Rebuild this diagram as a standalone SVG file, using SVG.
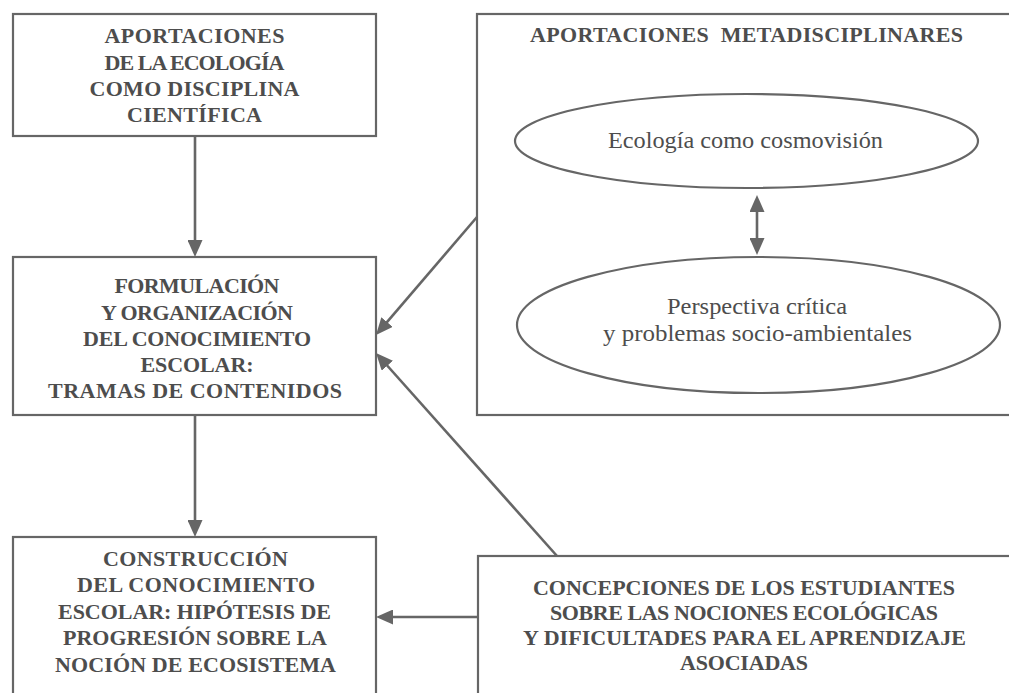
<svg xmlns="http://www.w3.org/2000/svg" width="1009" height="693" viewBox="0 0 1009 693">
<style>
.box{fill:#ffffff;stroke:#666666;stroke-width:2.2}
.ell{fill:#ffffff;stroke:#666666;stroke-width:2.2}
.b{font-family:"Liberation Serif","Times New Roman",serif;font-weight:bold;font-size:22px;fill:#4d4d4d;text-anchor:middle}
.r{font-family:"Liberation Serif","Times New Roman",serif;font-size:24px;fill:#4d4d4d;text-anchor:middle}
.c{stroke:#666666;stroke-width:2.6;fill:none}
</style>
<defs>
<marker id="ah" markerUnits="userSpaceOnUse" markerWidth="17" markerHeight="15" refX="11" refY="7.5" orient="auto-start-reverse">
<path d="M0,0 L17,7.5 L0,15 z" fill="#666666"/>
</marker>
</defs>
<rect width="1009" height="693" fill="#ffffff"/>
<g id="n1">
<rect class="box" x="13" y="14" width="363" height="122"/>
<text class="b" x="194.5" y="43" textLength="180">APORTACIONES</text>
<text class="b" x="194.5" y="69.5" textLength="180">DE LA ECOLOGÍA</text>
<text class="b" x="194.5" y="96" textLength="210">COMO DISCIPLINA</text>
<text class="b" x="194.5" y="122" textLength="135">CIENTÍFICA</text>
</g>
<g id="n2">
<rect class="box" x="13" y="257" width="363" height="158"/>
<text class="b" x="197" y="293" textLength="165">FORMULACIÓN</text>
<text class="b" x="197" y="320" textLength="192">Y ORGANIZACIÓN</text>
<text class="b" x="197" y="346" textLength="228">DEL CONOCIMIENTO</text>
<text class="b" x="197" y="372" textLength="113">ESCOLAR:</text>
<text class="b" x="195" y="398" textLength="294">TRAMAS DE CONTENIDOS</text>
</g>
<g id="n3">
<rect class="box" x="477" y="14" width="545" height="401"/>
<text class="b" x="746.5" y="42" textLength="433" xml:space="preserve">APORTACIONES  METADISCIPLINARES</text>
</g>
<g id="n3a">
<ellipse class="ell" cx="746.5" cy="141" rx="231.5" ry="47"/>
<text class="r" x="745.5" y="148" textLength="275" lengthAdjust="spacingAndGlyphs">Ecología como cosmovisión</text>
</g>
<g id="n3b">
<ellipse class="ell" cx="758.5" cy="325" rx="241.5" ry="68"/>
<text class="r" x="757" y="314" textLength="180" lengthAdjust="spacingAndGlyphs">Perspectiva crítica</text>
<text class="r" x="757.5" y="341" textLength="309" lengthAdjust="spacingAndGlyphs">y problemas socio-ambientales</text>
</g>
<g id="n4">
<rect class="box" x="13" y="537" width="363" height="170"/>
<text class="b" x="195.5" y="566" textLength="185">CONSTRUCCIÓN</text>
<text class="b" x="196" y="592" textLength="238">DEL CONOCIMIENTO</text>
<text class="b" x="194.5" y="619" textLength="273">ESCOLAR: HIPÓTESIS DE</text>
<text class="b" x="195" y="645" textLength="264">PROGRESIÓN SOBRE LA</text>
<text class="b" x="195.5" y="672" textLength="281">NOCIÓN DE ECOSISTEMA</text>
</g>
<g id="n5">
<rect class="box" x="478" y="556" width="545" height="150"/>
<text class="b" x="744" y="595" textLength="422">CONCEPCIONES DE LOS ESTUDIANTES</text>
<text class="b" x="744" y="620" textLength="388">SOBRE LAS NOCIONES ECOLÓGICAS</text>
<text class="b" x="744.5" y="645" textLength="443">Y DIFICULTADES PARA EL APRENDIZAJE</text>
<text class="b" x="744" y="670" textLength="128">ASOCIADAS</text>
</g>
<g id="connectors">
<line class="c" x1="195" y1="136" x2="195" y2="251" marker-end="url(#ah)"/>
<line class="c" x1="195" y1="415" x2="195" y2="531" marker-end="url(#ah)"/>
<line class="c" x1="477" y1="217" x2="379.9" y2="330.4" marker-end="url(#ah)"/>
<line class="c" x1="557" y1="556" x2="380" y2="357.5" marker-end="url(#ah)"/>
<line class="c" x1="478" y1="617" x2="382" y2="617" marker-end="url(#ah)"/>
<line class="c" x1="757" y1="201" x2="757" y2="249" marker-start="url(#ah)" marker-end="url(#ah)"/>
</g>
</svg>
